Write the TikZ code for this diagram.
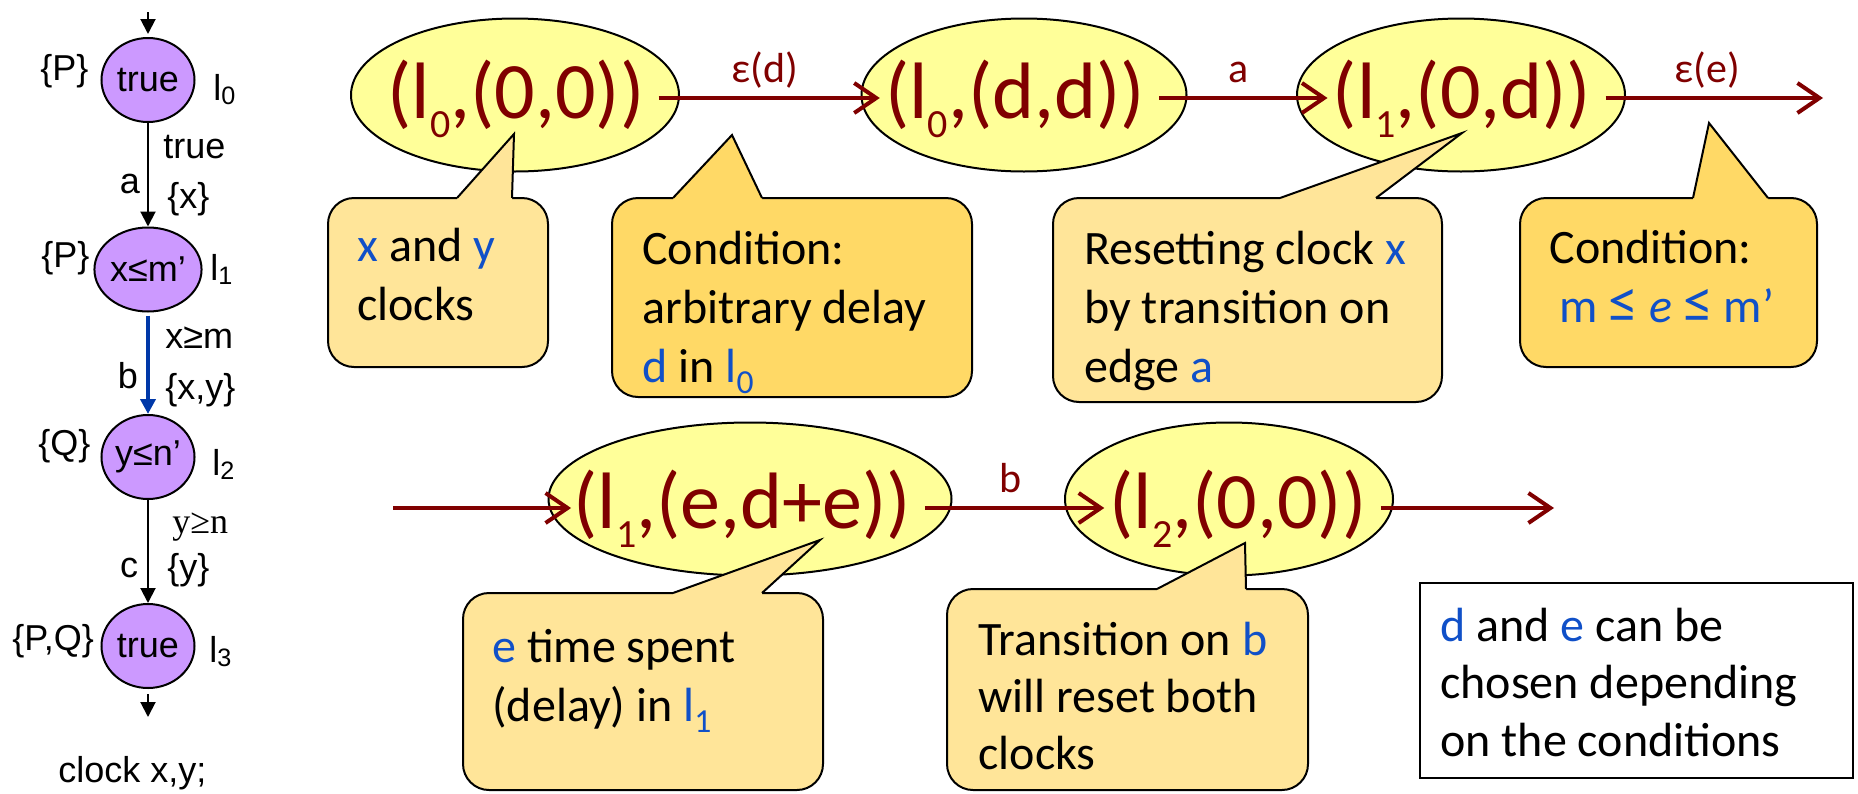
\documentclass[tikz,border=0pt]{standalone}
\usepackage{fontspec}
\usepackage{graphicx}
\setmainfont{Carlito}
\newfontfamily\arialf{Liberation Sans}
\newfontfamily\timesf{Liberation Serif}
\usetikzlibrary{arrows.meta,shapes.geometric}
\definecolor{ellfill}{HTML}{FFFF99}
\definecolor{callA}{HTML}{FFE599}
\definecolor{callB}{HTML}{FFD966}
\definecolor{locfill}{HTML}{CC99FF}
\definecolor{dred}{RGB}{128,0,0}
\definecolor{tblue}{RGB}{16,80,200}
\definecolor{eblue}{RGB}{0,56,168}
\newcommand{\lsub}[2][0.5]{\raisebox{-0.24em}{\scalebox{#1}{#2}}}
\newcommand{\asub}[1]{\raisebox{-0.12em}{\scalebox{0.7}{#1}}}
\newcommand{\bl}[1]{\textcolor{tblue}{#1}}
\newcommand{\mycallout}[9]{%
  \draw[line width=1pt, fill=#9, rounded corners=13pt] (#1,#2) rectangle (#3,#4);
  \fill[#9] (#5,{#2+4}) -- (#5,#2) -- (#7,#8) -- (#6,#2) -- (#6,{#2+4}) -- cycle;
  \draw[line width=1pt, line join=miter] (#5,#2) -- (#7,#8) -- (#6,#2);
}
\begin{document}
\begin{tikzpicture}[x=0.5pt,y=-0.5pt,
  loc/.style={ellipse, draw=black, line width=1pt, fill=locfill, minimum width=46.5pt, minimum height=42pt, inner sep=0pt, font=\arialf\fontsize{18}{21}\selectfont},
  alab/.style={font=\arialf\fontsize{18}{21}\selectfont, inner sep=0pt, anchor=base west},
  alabc/.style={font=\arialf\fontsize{18}{21}\selectfont, inner sep=0pt, anchor=base},
  karr/.style={line width=1pt, -{Triangle[length=7.5pt,width=7.5pt]}},
  barr/.style={draw=eblue, line width=2pt, -{Triangle[length=7.5pt,width=7.5pt]}},
  ell/.style={ellipse, draw=black, line width=1pt, fill=ellfill, minimum height=76.5pt, inner sep=0pt},
  bigt/.style={font=\fontsize{40}{48}\selectfont, text=dred, inner sep=0pt, anchor=base},
  redarr/.style={draw=dred, line width=2pt, -{Straight Barb[length=11pt,width=15pt]}},
  elab/.style={midway, anchor=base, yshift=8pt, font=\fontsize{21}{24}\selectfont, text=dred, inner sep=0pt},
  ctext/.style={font=\fontsize{24}{29.5}\selectfont, align=left, inner sep=0pt, anchor=base west},
]
\useasboundingbox (0,0) rectangle (1858,793);

% ---------- left automaton ----------
\node[loc] (l0) at (148,80) {true};
\node[loc] (l1) at (148,269.5) {x≤m’};
\node[loc] (l2) at (148,457) {y≤n’};
\node[loc] (l3) at (148,646) {true};
\coordinate (init) at (148,12);
\coordinate (fin) at (148,717);
\draw[karr, shorten >=1.5pt] (init) -- (l0);
\draw[karr] (l0) -- (l1);
\draw[barr, shorten <=1.5pt] (l1) -- (l2);
\draw[karr] (l2) -- (l3);
\draw[karr, shorten <=2.5pt] (l3) -- (fin);

\node[alab] (p0) at (40,80) {\{P\}};
\node[alab] (n0) at (213,100) {l\asub{0}};
\node[alab] (g0) at (163,158) {true};
\node[alabc] (a0) at (130,193) {a};
\node[alab] (r0) at (167,208) {\{x\}};
\node[alab] (p1) at (41,267) {\{P\}};
\node[alab] (n1) at (210,280) {l\asub{1}};
\node[alab] (g1) at (165,348) {x≥m};
\node[alabc] (b0) at (128,388) {b};
\node[alab] (r1) at (165,399) {\{x,y\}};
\node[alab] (p2) at (38,455) {\{Q\}};
\node[alab] (n2) at (212,475) {l\asub{2}};
\node[alab, font=\timesf\fontsize{18}{21}\selectfont] (g2) at (172,533) {y≥n};
\node[alabc] (c0) at (129,577) {c};
\node[alab] (r2) at (167,579) {\{y\}};
\node[alab] (p3) at (12,650) {\{P,Q\}};
\node[alab] (n3) at (209,662) {l\asub{3}};
\node[alab] (clk) at (58,782) {clock x,y;};

% ---------- ellipses ----------
\node[ell, minimum width=164pt] (e1) at (515,95) {};
\node[ell, minimum width=162.5pt] (e2) at (1024,95) {};
\node[ell, minimum width=164pt] (e3) at (1461,95) {};
\node[ell, minimum width=201.5pt] (e4) at (750,499) {};
\node[ell, minimum width=164pt] (e5) at (1229,499) {};

% ---------- callouts ----------
\mycallout{328}{198}{548}{367}{457}{512}{514}{134}{callA}
\mycallout{612}{198}{972}{397}{673}{762}{732}{135}{callB}
\mycallout{1053}{198}{1442}{402}{1280}{1376}{1462}{133}{callA}
\mycallout{1520}{198}{1817}{367}{1693}{1768}{1709}{123}{callB}
\mycallout{463}{593}{823}{790}{673}{762}{820}{540}{callA}
\mycallout{947}{589}{1308}{790}{1157}{1246}{1245}{543}{callA}
\draw[line width=1pt] (1420,583) rectangle (1853,778);

% ---------- ellipse texts ----------
\node[bigt] (t1) at (516,118) {(l\lsub{0},(0,0))};
\node[bigt] (t2) at (1015,118) {(l\lsub{0},(d,d))};
\node[bigt] (t3) at (1462,118) {(l\lsub{1},(0,d))};
\node[bigt] (t4) at (742,528) {(l\lsub{1},(e,d+e))};
\node[bigt] (t5) at (1238,528) {(l\lsub{2},(0,0))};

% ---------- red arrows ----------
\coordinate (o3) at (1823,98);
\coordinate (i4) at (393,508);
\coordinate (o6) at (1554,508);
\draw[redarr, shorten <=7pt, shorten >=2.5pt] ([yshift=10pt]t1.base east) -- ([yshift=10pt]t2.base west) node[elab] {ε(d)};
\draw[redarr, shorten <=7pt, shorten >=2.5pt] ([yshift=10pt]t2.base east) -- ([yshift=10pt]t3.base west) node[elab] {a};
\draw[redarr, shorten <=7pt] ([yshift=10pt]t3.base east) -- (o3) node[elab] {ε(e)};
\draw[redarr, shorten >=1pt] (i4) -- ([yshift=10pt]t4.base west);
\draw[redarr, shorten <=7pt, shorten >=2.5pt] ([yshift=10pt]t4.base east) -- ([yshift=10pt]t5.base west) node[elab] {b};
\draw[redarr, shorten <=7pt] ([yshift=10pt]t5.base east) -- (o6);

% ---------- callout texts (anchor = baseline of last line) ----------
\node[ctext] (k1) at (357,320) {\bl{x} and \bl{y}\\clocks};
\node[ctext] (k2) at (642,382) {Condition:\\arbitrary delay\\\bl{d} in \bl{l\lsub[0.7]{0}}};
\node[ctext] (k3) at (1084,382) {Resetting clock \bl{x}\\by transition on\\edge \bl{a}};
\node[ctext] (k4) at (1549,322) {Condition:\\\hspace*{5pt}\bl{m {\fontsize{30}{30}\selectfont≤} \textit{e} {\fontsize{30}{30}\selectfont≤} m’}};
\node[ctext] (k5) at (492,721) {\bl{e} time spent\\(delay) in \bl{l\lsub[0.7]{1}}};
\node[ctext, font=\fontsize{24}{28.5}\selectfont] (k6) at (978,769) {Transition on \bl{b}\\will reset both\\clocks};
\node[ctext, font=\fontsize{24}{28.75}\selectfont] (k7) at (1440,756) {\bl{d} and \bl{e} can be\\chosen depending\\on the conditions};
\end{tikzpicture}
\end{document}
